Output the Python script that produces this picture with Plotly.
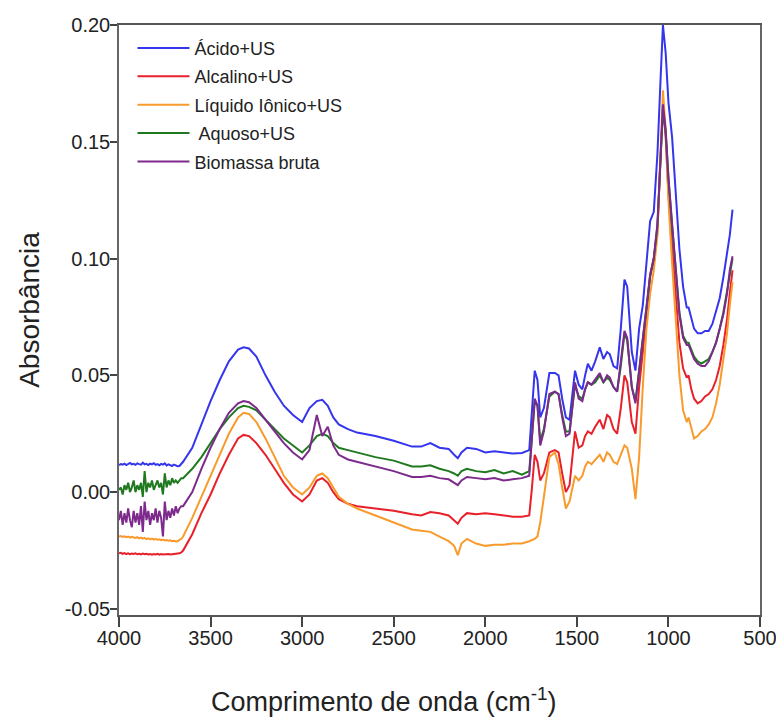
import plotly.graph_objects as go

# ---- data ----
# dense grid for the noisy low-absorbance region 4000 -> 3660 cm-1
wn_low = [4000, 3990, 3980, 3970, 3960, 3950, 3940, 3930, 3920, 3910,
          3900, 3890, 3880, 3870, 3860, 3850, 3840, 3830, 3820, 3810,
          3800, 3790, 3780, 3770, 3760, 3750, 3740, 3730, 3720, 3710,
          3700, 3690, 3680, 3670, 3660]

# main grid 3650 -> 650 cm-1
wn_main = [3650, 3600, 3550, 3500, 3450, 3400, 3350, 3320, 3290, 3250,
           3200, 3150, 3100, 3050, 3000,
           2960, 2920, 2890, 2860, 2830, 2800, 2750, 2700,
           2600, 2500, 2400, 2350, 2300, 2250, 2200, 2170, 2150, 2130, 2100, 2050, 2000,
           1950, 1900, 1850, 1800, 1760, 1745, 1730, 1715, 1700, 1680,
           1650, 1620, 1600, 1580, 1560, 1540, 1510, 1490, 1470, 1455,
           1440, 1420, 1400, 1375, 1355, 1335, 1320, 1300, 1280, 1260,
           1240, 1225, 1200, 1180, 1160, 1140, 1120, 1100, 1080, 1060,
           1045, 1030, 1015, 1000, 980, 960, 940, 920, 900, 890,
           875, 860, 840, 820, 800, 780, 760, 740, 720, 700,
           680, 665, 650]

acido_low = [0.0115, 0.0120, 0.0118, 0.0122, 0.0116, 0.0120, 0.0125, 0.0119, 0.0121, 0.0117,
             0.0123, 0.0120, 0.0118, 0.0126, 0.0119, 0.0121, 0.0116, 0.0122, 0.0119, 0.0124,
             0.0117, 0.0120, 0.0115, 0.0121, 0.0118, 0.0123, 0.0114, 0.0119, 0.0116, 0.0112,
             0.0118, 0.0113, 0.0111, 0.0112, 0.0120]
acido_main = [0.013, 0.019, 0.029, 0.039, 0.048, 0.056, 0.061, 0.062, 0.0615, 0.058,
              0.050, 0.043, 0.037, 0.033, 0.030,
              0.036, 0.039, 0.0395, 0.037, 0.032, 0.029, 0.027, 0.0255,
              0.024, 0.022, 0.0195, 0.0195, 0.021, 0.019, 0.0185, 0.016, 0.0145, 0.017, 0.019, 0.0185, 0.017,
              0.0175, 0.017, 0.0165, 0.0168, 0.018, 0.035, 0.052, 0.048, 0.032, 0.036,
              0.051, 0.051, 0.050, 0.040, 0.032, 0.031, 0.052, 0.046, 0.044, 0.050,
              0.055, 0.052, 0.056, 0.062, 0.057, 0.060, 0.059, 0.054, 0.053, 0.070,
              0.091, 0.088, 0.060, 0.052, 0.070, 0.080, 0.100, 0.116, 0.120, 0.145,
              0.173, 0.200, 0.188, 0.167, 0.152, 0.128, 0.104, 0.088, 0.079, 0.079,
              0.074, 0.070, 0.068, 0.068, 0.069, 0.069, 0.072, 0.077, 0.083, 0.092,
              0.102, 0.110, 0.121]

alcalino_low = [-0.0262, -0.0260, -0.0264, -0.0261, -0.0265, -0.0262, -0.0266, -0.0263, -0.0265, -0.0262,
                -0.0266, -0.0264, -0.0267, -0.0263, -0.0266, -0.0264, -0.0267, -0.0265, -0.0268, -0.0265,
                -0.0267, -0.0264, -0.0268, -0.0265, -0.0267, -0.0266, -0.0268, -0.0265, -0.0267, -0.0266,
                -0.0268, -0.0266, -0.0265, -0.0262, -0.0258]
alcalino_main = [-0.025, -0.018, -0.009, -0.001, 0.008, 0.016, 0.023, 0.0245, 0.024, 0.021,
                 0.016, 0.010, 0.004, -0.001, -0.004,
                 -0.001, 0.005, 0.006, 0.004, 0.000, -0.003, -0.005, -0.006,
                 -0.007, -0.008, -0.0095, -0.010, -0.0085, -0.009, -0.010, -0.012, -0.0135, -0.011, -0.009, -0.0095, -0.009,
                 -0.0095, -0.010, -0.0105, -0.0105, -0.010, 0.002, 0.016, 0.013, 0.005, 0.008,
                 0.017, 0.018, 0.017, 0.008, 0.000, 0.003, 0.026, 0.019, 0.020, 0.024,
                 0.026, 0.025, 0.028, 0.031, 0.027, 0.033, 0.032, 0.027, 0.025, 0.036,
                 0.050, 0.047, 0.030, 0.025, 0.045, 0.060, 0.078, 0.093, 0.100, 0.112,
                 0.140, 0.165, 0.152, 0.128, 0.105, 0.083, 0.064, 0.053, 0.049, 0.050,
                 0.044, 0.040, 0.038, 0.039, 0.041, 0.042, 0.044, 0.048, 0.054, 0.063,
                 0.074, 0.085, 0.095]

liquido_low = [-0.0190, -0.0188, -0.0192, -0.0189, -0.0193, -0.0190, -0.0195, -0.0191, -0.0194, -0.0196,
               -0.0193, -0.0198, -0.0195, -0.0199, -0.0196, -0.0201, -0.0198, -0.0202, -0.0199, -0.0203,
               -0.0200, -0.0204, -0.0202, -0.0206, -0.0203, -0.0207, -0.0205, -0.0208, -0.0206, -0.0210,
               -0.0208, -0.0211, -0.0210, -0.0205, -0.0200]
liquido_main = [-0.019, -0.011, -0.002, 0.007, 0.016, 0.025, 0.032, 0.034, 0.0335, 0.030,
                0.023, 0.015, 0.007, 0.002, -0.001,
                0.002, 0.007, 0.008, 0.006, 0.002, -0.002, -0.005, -0.007,
                -0.010, -0.013, -0.016, -0.0165, -0.017, -0.019, -0.021, -0.023, -0.027, -0.022, -0.020, -0.022, -0.023,
                -0.0225, -0.0225, -0.022, -0.022, -0.021, -0.0205, -0.020, -0.019, -0.013, -0.002,
                0.015, 0.017, 0.012, 0.002, -0.007, -0.004, 0.007, 0.005, 0.007, 0.011,
                0.013, 0.012, 0.014, 0.016, 0.013, 0.017, 0.016, 0.013, 0.012, 0.016,
                0.020, 0.019, 0.010, -0.003, 0.015, 0.045, 0.070, 0.085, 0.095, 0.110,
                0.140, 0.172, 0.155, 0.125, 0.098, 0.072, 0.050, 0.035, 0.030, 0.032,
                0.027, 0.023, 0.024, 0.026, 0.027, 0.029, 0.032, 0.038, 0.046, 0.056,
                0.068, 0.080, 0.090]

aquoso_low = [0.001, 0.002, -0.001, 0.003, 0.001, 0.004, 0.000, 0.002, 0.005, 0.000,
              0.003, 0.001, 0.004, -0.002, 0.009, 0.000, 0.004, 0.002, 0.005, 0.001,
              0.003, 0.005, 0.002, 0.004, -0.001, 0.008, 0.002, 0.005, 0.003, 0.006,
              0.004, 0.005, 0.004, 0.005, 0.006]
aquoso_main = [0.006, 0.010, 0.015, 0.021, 0.027, 0.032, 0.036, 0.037, 0.0365, 0.035,
               0.031, 0.027, 0.023, 0.020, 0.017,
               0.020, 0.024, 0.025, 0.024, 0.021, 0.019, 0.018, 0.017,
               0.015, 0.0135, 0.011, 0.011, 0.0115, 0.010, 0.009, 0.008, 0.007, 0.009, 0.010, 0.009, 0.0085,
               0.0095, 0.0080, 0.0090, 0.0075, 0.009, 0.024, 0.039, 0.037, 0.022, 0.027,
               0.041, 0.043, 0.042, 0.033, 0.026, 0.026, 0.046, 0.041, 0.040, 0.044,
               0.047, 0.046, 0.047, 0.050, 0.047, 0.049, 0.048, 0.045, 0.043, 0.054,
               0.068, 0.065, 0.045, 0.039, 0.052, 0.064, 0.079, 0.092, 0.100, 0.114,
               0.139, 0.164, 0.154, 0.134, 0.114, 0.094, 0.077, 0.067, 0.064, 0.064,
               0.061, 0.058, 0.056, 0.055, 0.056, 0.057, 0.060, 0.064, 0.070, 0.077,
               0.086, 0.094, 0.100]

bruta_low = [-0.012, -0.008, -0.014, -0.009, -0.013, -0.007, -0.012, -0.015, -0.008, -0.013,
             -0.009, -0.014, -0.006, -0.017, -0.004, -0.012, -0.008, -0.014, -0.009, -0.012,
             -0.007, -0.013, -0.008, -0.011, -0.019, -0.004, -0.012, -0.008, -0.011, -0.007,
             -0.010, -0.006, -0.009, -0.007, -0.006]
bruta_main = [-0.006, 0.000, 0.010, 0.019, 0.027, 0.034, 0.038, 0.039, 0.0385, 0.036,
              0.031, 0.026, 0.021, 0.017, 0.014,
              0.018, 0.033, 0.024, 0.028, 0.020, 0.016, 0.014, 0.013,
              0.011, 0.009, 0.0065, 0.0065, 0.007, 0.006, 0.0055, 0.004, 0.003, 0.005, 0.0065, 0.006, 0.0055,
              0.006, 0.005, 0.0055, 0.006, 0.007, 0.025, 0.040, 0.037, 0.020, 0.026,
              0.042, 0.043, 0.042, 0.032, 0.024, 0.025, 0.047, 0.040, 0.039, 0.044,
              0.047, 0.046, 0.048, 0.051, 0.047, 0.050, 0.049, 0.045, 0.043, 0.055,
              0.069, 0.066, 0.045, 0.038, 0.052, 0.065, 0.080, 0.093, 0.100, 0.115,
              0.140, 0.166, 0.155, 0.135, 0.115, 0.095, 0.076, 0.066, 0.063, 0.063,
              0.060, 0.057, 0.055, 0.054, 0.054, 0.056, 0.060, 0.064, 0.070, 0.076,
              0.085, 0.095, 0.101]

series_names = ["Ácido+US", "Alcalino+US", "Líquido Iônico+US", " Aquoso+US", "Biomassa bruta"]
series_low = [acido_low, alcalino_low, liquido_low, aquoso_low, bruta_low]
series_main = [acido_main, alcalino_main, liquido_main, aquoso_main, bruta_main]
series_colors = ["#3535ee", "#e8202a", "#f99a2c", "#1f7a1f", "#7d2a8c"]

x_tickvals = [4000, 3500, 3000, 2500, 2000, 1500, 1000, 500]
y_tickvals = [-0.05, 0.00, 0.05, 0.10, 0.15, 0.20]
y_ticktext = ["-0.05", "0.00", "0.05", "0.10", "0.15", "0.20"]

x_title = "Comprimento de onda (cm<sup>-1</sup>)"
y_title = "Absorbância"

# ---- figure ----
fig = go.Figure()
for name, lo, mn, col in zip(series_names, series_low, series_main, series_colors):
    fig.add_trace(go.Scatter(
        x=wn_low + wn_main, y=lo + mn, mode="lines", name=name,
        legendgroup=name,
        line=dict(color=col, width=2),
    ))

font_family = "Liberation Sans, Arial, sans-serif"
fig.update_layout(
    width=776, height=724,
    margin=dict(l=119, r=16, t=25, b=109),
    paper_bgcolor="white", plot_bgcolor="white",
    font=dict(family=font_family, color="#222222"),
    showlegend=True,
    legend=dict(
        x=0.021, y=0.992, xanchor="left", yanchor="top",
        bgcolor="rgba(255,255,255,0)", borderwidth=0,
        font=dict(size=18, family=font_family, color="#222222"),
        tracegroupgap=2, itemwidth=52,
    ),
    annotations=[
        dict(text=x_title, xref="paper", yref="paper", x=0.413, y=-0.144,
             xanchor="center", yanchor="middle", showarrow=False,
             font=dict(size=27, family=font_family, color="#222")),
        dict(text=y_title, xref="paper", yref="paper", x=-0.139, y=0.517,
             xanchor="center", yanchor="middle", showarrow=False, textangle=-90,
             font=dict(size=28, family=font_family, color="#222")),
    ],
)
fig.update_xaxes(
    range=[4000, 500], tickvals=x_tickvals, automargin=False,
    ticklabeloverflow="allow",
    ticks="outside", ticklen=10, tickwidth=1.5, tickcolor="#444",
    ticklabelstandoff=-6,
    showline=True, linecolor="#555", linewidth=1.5, mirror=True,
    showgrid=False, zeroline=False,
    tickfont=dict(size=20, family=font_family, color="#222"),
)
fig.update_yaxes(
    range=[-0.0526, 0.2], tickvals=y_tickvals, ticktext=y_ticktext, automargin=False,
    ticklabeloverflow="allow",
    ticks="outside", ticklen=7, tickwidth=1.5, tickcolor="#444",
    ticklabelstandoff=-4,
    showline=True, linecolor="#666", linewidth=1.5, mirror=True,
    showgrid=False, zeroline=False,
    tickfont=dict(size=20, family=font_family, color="#222"),
)

# remove the default page margin so the 776x724 figure fills the window exactly
fig.write_html("out.html",
               config={"displayModeBar": False},
               post_script="document.body.style.margin='0';document.body.style.overflow='hidden';")
